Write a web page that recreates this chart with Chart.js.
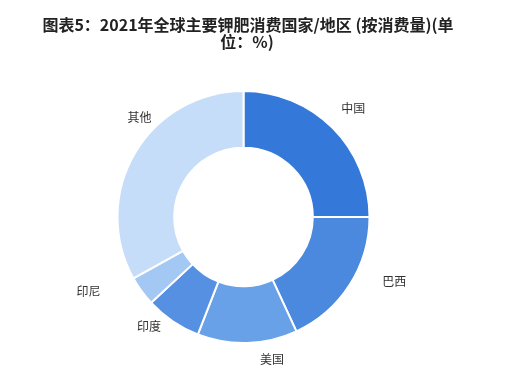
<!DOCTYPE html>
<html>
<head>
<meta charset="utf-8">
<script src="https://cdn.jsdelivr.net/npm/chart.js@4/dist/chart.umd.min.js"></script>
<style>
  html, body { margin: 0; padding: 0; background: #fff; }
  #wrap { width: 525px; height: 389px; position: relative; }
</style>
</head>
<body>
<div id="wrap"><canvas id="c" width="525" height="389"></canvas></div>
<script>
const titleLines = ['图表5：2021年全球主要钾肥消费国家/地区 (按消费量)(单', '位：%)'];
const categories = ['中国', '巴西', '美国', '印度', '印尼', '其他'];
const shares = [25, 18.1, 12.8, 7.2, 3.8, 33.1];
const colors = ['#3479d9', '#4a89de', '#69a1e8', '#5690e2', '#a4c8f4', '#c6ddf9'];

// label placement tweaks: [angle shift in degrees, distance beyond outer radius]
const labelTweaks = [[0.4, 28], [-9.4, 38], [-9.5, 19], [6.5, 19], [10.3, 46], [13.3, 18]];

const titlePlugin = {
  id: 'titleDraw',
  afterDraw(chart) {
    const ctx = chart.ctx;
    ctx.save();
    ctx.fillStyle = '#222';
    ctx.font = 'bold 16px "Noto Sans CJK SC", sans-serif';
    ctx.textAlign = 'center';
    ctx.textBaseline = 'middle';
    ctx.fillText(titleLines[0], 248, 25);
    ctx.fillText(titleLines[1], 247, 42);
    ctx.restore();
  }
};

const labelPlugin = {
  id: 'sliceLabels',
  afterDatasetsDraw(chart) {
    const ctx = chart.ctx;
    const meta = chart.getDatasetMeta(0);
    ctx.save();
    ctx.fillStyle = '#333';
    ctx.font = '12px "Noto Sans CJK SC", sans-serif';
    ctx.textAlign = 'center';
    ctx.textBaseline = 'middle';
    meta.data.forEach((arc, i) => {
      const p = arc.getProps(['x', 'y', 'startAngle', 'endAngle', 'outerRadius'], true);
      const tw = labelTweaks[i] || [0, 25];
      const mid = (p.startAngle + p.endAngle) / 2 + tw[0] * Math.PI / 180;
      const r = p.outerRadius + tw[1];
      ctx.fillText(chart.data.labels[i], p.x + r * Math.cos(mid), p.y + r * Math.sin(mid));
    });
    ctx.restore();
  }
};

new Chart(document.getElementById('c'), {
  type: 'doughnut',
  data: {
    labels: categories,
    datasets: [{
      data: shares,
      backgroundColor: colors,
      borderColor: '#ffffff',
      borderWidth: 2,
      hoverOffset: 0
    }]
  },
  options: {
    responsive: false,
    animation: false,
    cutout: '55%',
    layout: { padding: { top: 90, bottom: 45, left: 116, right: 154 } },
    plugins: {
      legend: { display: false },
      title: { display: false },
      tooltip: { enabled: false }
    }
  },
  plugins: [titlePlugin, labelPlugin]
});
</script>
</body>
</html>
